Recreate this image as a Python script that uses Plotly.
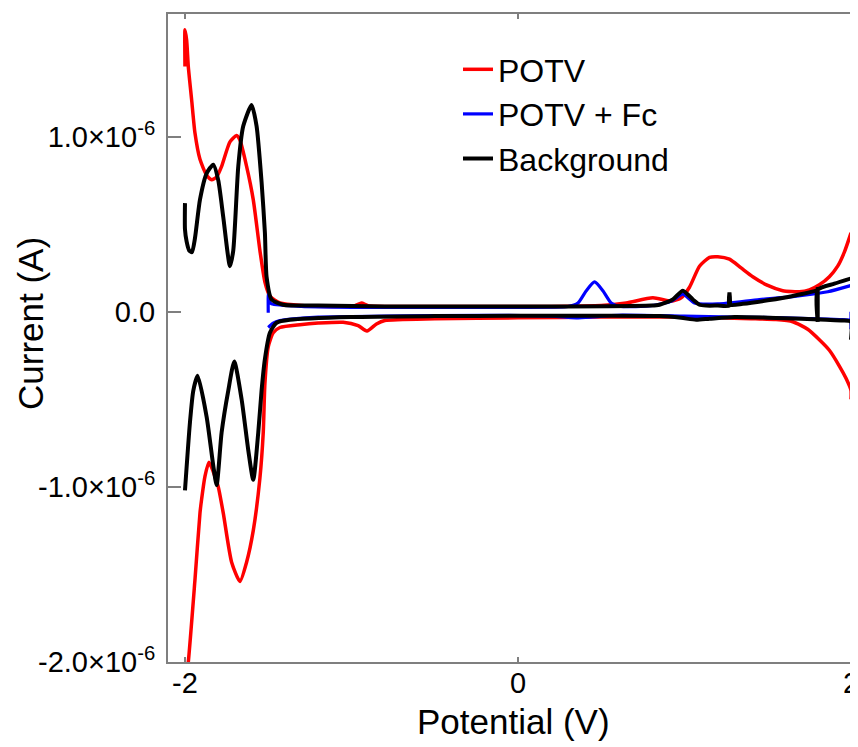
import plotly.graph_objects as go

# ---- data (potential in V, current in units of 1e-6 A) ----
potv_up_v = [-2.00, -2.00, -1.99, -1.98, -1.96, -1.94, -1.91, -1.87, -1.84, -1.81,
             -1.78, -1.73, -1.69, -1.67, -1.63, -1.59, -1.55, -1.52, -1.49, -1.43,
             -1.30, -1.10, -0.98, -0.94, -0.90, -0.70, -0.30, 0.20, 0.50, 0.65,
             0.81, 0.92, 0.98, 1.03, 1.09, 1.15, 1.20, 1.27, 1.34, 1.41,
             1.50, 1.59, 1.69, 1.75, 1.81, 1.87, 1.92, 1.96, 2.00]
potv_up_i = [1.40, 1.61, 1.55, 1.40, 1.21, 1.02, 0.87, 0.78, 0.754, 0.77,
             0.83, 0.97, 1.006, 0.98, 0.83, 0.64, 0.35, 0.17, 0.09, 0.05,
             0.035, 0.03, 0.035, 0.05, 0.035, 0.03, 0.03, 0.03, 0.035, 0.05,
             0.08, 0.06, 0.08, 0.14, 0.26, 0.31, 0.314, 0.30, 0.25, 0.20,
             0.15, 0.12, 0.114, 0.125, 0.154, 0.20, 0.26, 0.34, 0.45]
potv_dn_v = [2.00, 2.00, 1.97, 1.93, 1.87, 1.81, 1.74, 1.65, 1.55, 1.40,
             1.20, 0.90, 0.50, 0.0, -0.50, -0.80, -0.85, -0.907, -0.96, -1.05,
             -1.20, -1.31, -1.43, -1.47, -1.50, -1.52, -1.53, -1.55, -1.59, -1.63,
             -1.67, -1.72, -1.77, -1.80, -1.82, -1.856, -1.88, -1.90, -1.91, -1.94,
             -1.98, -2.00]
potv_dn_i = [-0.50, -0.45, -0.38, -0.31, -0.22, -0.16, -0.10, -0.057, -0.045, -0.04,
             -0.035, -0.03, -0.03, -0.035, -0.04, -0.05, -0.07, -0.11, -0.08, -0.06,
             -0.065, -0.074, -0.09, -0.12, -0.20, -0.41, -0.69, -0.95, -1.25, -1.43,
             -1.54, -1.43, -1.15, -1.0, -0.94, -0.86, -0.94, -1.07, -1.15, -1.53,
             -2.0, -2.15]

fc_up_v = [-1.50, -1.50, -1.495, -1.48, -1.30, -1.00, -0.50, 0.00, 0.30, 0.36,
           0.41, 0.46, 0.51, 0.56, 0.62, 0.80, 0.92, 0.99, 1.06, 1.20,
           1.45, 1.65, 1.86, 2.00]
fc_up_i = [-0.006, 0.10, 0.06, 0.045, 0.03, 0.025, 0.025, 0.025, 0.03, 0.05,
           0.12, 0.17, 0.12, 0.05, 0.03, 0.035, 0.06, 0.10, 0.05, 0.045,
           0.07, 0.086, 0.114, 0.15]
fc_dn_v = [2.00, 2.00, 2.00, 1.93, 1.80, 1.60, 1.30, 1.00, 0.60, 0.45,
           0.35, 0.20, -0.20, -0.80, -1.20, -1.35, -1.43, -1.47, -1.50]
fc_dn_i = [0.0, -0.10, -0.05, -0.045, -0.04, -0.035, -0.03, -0.025, -0.02, -0.03,
           -0.035, -0.025, -0.02, -0.025, -0.03, -0.04, -0.05, -0.065, -0.09]

bg_up_v = [-2.00, -2.00, -1.99, -1.975, -1.958, -1.94, -1.91, -1.87, -1.83, -1.80,
           -1.77, -1.73, -1.71, -1.68, -1.65, -1.60, -1.57, -1.54, -1.52, -1.51,
           -1.48, -1.41, -1.20, -0.80, -0.30, 0.30, 0.80, 0.85, 0.93, 0.99,
           1.05, 1.09, 1.13, 1.20, 1.27, 1.27, 1.27, 1.35, 1.50, 1.65,
           1.80, 1.80, 1.80, 1.80, 1.90, 2.00]
bg_up_i = [0.62, 0.47, 0.40, 0.35, 0.34, 0.42, 0.64, 0.79, 0.84, 0.75,
           0.54, 0.26, 0.35, 0.83, 1.06, 1.18, 1.06, 0.74, 0.45, 0.20,
           0.07, 0.04, 0.035, 0.03, 0.03, 0.03, 0.035, 0.04, 0.07, 0.12,
           0.07, 0.04, 0.035, 0.035, 0.035, 0.11, 0.04, 0.045, 0.065, 0.09,
           0.125, 0.14, -0.057, 0.125, 0.16, 0.19]
bg_dn_v = [2.00, 2.00, 1.95, 1.85, 1.70, 1.50, 1.30, 1.15, 1.07, 0.98,
           0.85, 0.50, 0.0, -0.5, -1.0, -1.37, -1.45, -1.49, -1.52, -1.54,
           -1.56, -1.59, -1.62, -1.66, -1.704, -1.74, -1.78, -1.81, -1.83, -1.87,
           -1.924, -1.95, -1.97, -2.00]
bg_dn_i = [-0.16, -0.057, -0.05, -0.046, -0.04, -0.034, -0.03, -0.04, -0.046, -0.035,
           -0.025, -0.023, -0.023, -0.025, -0.03, -0.046, -0.063, -0.12, -0.27, -0.45,
           -0.69, -0.96, -0.79, -0.50, -0.284, -0.45, -0.69, -0.99, -0.88, -0.60,
           -0.366, -0.45, -0.63, -1.02]

x_tickvals = [-2, 0, 2]
x_ticktext = ["-2", "0", "2"]
y_tickvals = [1.0e-6, 0.0, -1.0e-6, -2.0e-6]
y_ticktext = ["1.0×10<sup>-6</sup>", "0.0", "-1.0×10<sup>-6</sup>", "-2.0×10<sup>-6</sup>"]

SCALE = 1e-6


def loop(up_v, up_i, dn_v, dn_i):
    xs = list(up_v) + [None] + list(dn_v)
    ys = [v * SCALE for v in up_i] + [None] + [v * SCALE for v in dn_i]
    return xs, ys


FONT = "Liberation Sans, Arial, Helvetica, sans-serif"
fig = go.Figure()
series = [
    ("POTV", potv_up_v, potv_up_i, potv_dn_v, potv_dn_i, "#ff0000", 3.5),
    ("POTV + Fc", fc_up_v, fc_up_i, fc_dn_v, fc_dn_i, "#0000ff", 3.2),
    ("Background", bg_up_v, bg_up_i, bg_dn_v, bg_dn_i, "#000000", 4),
]
for name, uv, ui, dv, di, col, w in series:
    xs, ys = loop(uv, ui, dv, di)
    fig.add_trace(go.Scatter(x=xs, y=ys, mode="lines", name=name,
                             line=dict(color=col, width=w, shape="spline", smoothing=0.6),
                             connectgaps=False))

# page body has an 8px margin; figure is 850x739 so the page fits the window,
# with the plot area at 168..858, 14..662 in the window
fig.update_layout(
    template="none",
    width=850, height=739,
    margin=dict(l=160, r=0, t=6, b=85, autoexpand=False),
    paper_bgcolor="white", plot_bgcolor="white",
    font=dict(family=FONT, color="black"),
    showlegend=True,
    legend=dict(x=(458 - 168) / 690, y=(662 - 42) / 648, xanchor="left", yanchor="top",
                font=dict(size=32, family=FONT), bgcolor="rgba(0,0,0,0)",
                borderwidth=0, tracegroupgap=0),
    xaxis=dict(range=[-2.102, 2.042], tickvals=x_tickvals, ticktext=x_ticktext,
               automargin=False, ticklabeloverflow="allow",
               showgrid=False, zeroline=False, showline=True, linecolor="#7f7f7f",
               linewidth=2, mirror="ticks", ticks="inside", ticklen=5,
               tickcolor="#7f7f7f", tickwidth=2,
               tickfont=dict(size=29, family=FONT), ticklabelstandoff=-6),
    yaxis=dict(range=[-2.0e-6, 1.70e-6], tickvals=y_tickvals, ticktext=y_ticktext,
               automargin=False, ticklabeloverflow="allow",
               showgrid=False, zeroline=False, showline=True, linecolor="#7f7f7f",
               linewidth=2, mirror=False, ticks="inside", ticklen=13,
               tickcolor="#7f7f7f", tickwidth=2,
               tickfont=dict(size=29, family=FONT), ticklabelstandoff=5),
    annotations=[
        dict(text="Potential (V)", xref="paper", yref="paper",
             x=(513 - 168) / 690, y=-(721 - 662) / 648, xanchor="center", yanchor="middle",
             showarrow=False, font=dict(size=35, family=FONT)),
        dict(text="Current (A)", xref="paper", yref="paper",
             x=-(168 - 30) / 690, y=(662 - 324) / 648, xanchor="center", yanchor="middle",
             textangle=-90, showarrow=False, font=dict(size=35, family=FONT)),
    ],
)

fig.write_html("out.html")
